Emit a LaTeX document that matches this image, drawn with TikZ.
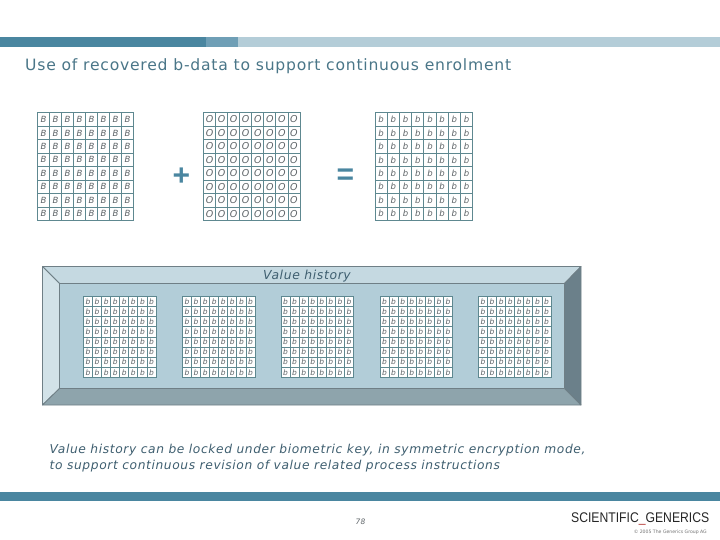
\documentclass[tikz,border=0pt]{standalone}
\usepackage{fontspec}
\setmainfont{DejaVu Sans}
\newfontfamily\logofont{Liberation Sans}
\newfontfamily\spacedfont[LetterSpace=5]{DejaVu Sans}
\definecolor{tealdark}{HTML}{4A86A0}
\definecolor{tealmid}{HTML}{6F9FB6}
\definecolor{teallight}{HTML}{B4CDD8}
\definecolor{gridline}{HTML}{5E8890}
\definecolor{titlecol}{HTML}{4A7688}
\definecolor{bevelface}{HTML}{B2CDD8}
\definecolor{beveltop}{HTML}{C5D9E1}
\definecolor{bevelleft}{HTML}{D2E2E8}
\definecolor{bevelbottom}{HTML}{8EA4AC}
\definecolor{bevelright}{HTML}{6B808A}
\definecolor{bevelline}{HTML}{6F7F86}
\definecolor{letter}{HTML}{5E6468}
\definecolor{bodytext}{HTML}{3F5F70}
\definecolor{logored}{HTML}{B8403C}
\tikzset{
  bar/.style={fill=#1,draw=none},
  bevel/.style={fill=#1,draw=bevelline,line width=0.8pt,line join=round},
  cellgrid/.style={draw=gridline,line width=0.8pt,fill=white},
  titletext/.style={anchor=west,inner sep=0pt,text=titlecol,font=\spacedfont\fontsize{15.6}{17}\selectfont},
  bodyline/.style={anchor=west,inner sep=0pt,text=bodytext,font=\spacedfont\itshape\fontsize{12.25}{14}\selectfont},
  opsign/.style={inner sep=0pt,text=tealdark,font=\logofont\bfseries\fontsize{30}{30}\selectfont},
  cellletter/.style={inner sep=0pt,text=letter,font=\itshape\fontsize{#1}{#1}\selectfont},
}
% \lettergrid{x0}{y0}{x1}{y1}{letter}{size}
\newcommand{\lettergrid}[6]{%
  \filldraw[cellgrid] (#1,#2) rectangle (#3,#4);
  \foreach \k in {1,...,7}{
    \draw[gridline,line width=0.8pt] ({#1+\k*(#3-#1)/8},#2) -- ({#1+\k*(#3-#1)/8},#4);
    \draw[gridline,line width=0.8pt] (#1,{#2+\k*(#4-#2)/8}) -- (#3,{#2+\k*(#4-#2)/8});
  }
  \foreach \i in {0,...,7}{\foreach \j in {0,...,7}{
    \node[cellletter=#6] at ({#1+(\i+0.5)*(#3-#1)/8},{#2+(\j+0.5)*(#4-#2)/8}) {#5};
  }}
}
\begin{document}
\begin{tikzpicture}[x=1pt,y=-1pt]
\useasboundingbox (0,0) rectangle (720,540);
\fill[white] (0,0) rectangle (720,540);
% top bars
\fill[bar=teallight] (238,37) rectangle (720,47);
\fill[bar=tealmid] (206,37) rectangle (238,47);
\fill[bar=tealdark] (0,37) rectangle (206,47);
\node[titletext] (title) at (25,66) {Use of recovered b-data to support continuous enrolment};
% upper grids
\lettergrid{37.5}{112.7}{133.5}{220.5}{B}{8.5}
\lettergrid{203.5}{112.7}{300}{220.5}{O}{9.5}
\lettergrid{375}{112.7}{472.7}{220.5}{b}{8.5}
\node[opsign] (plus) at (181.5,176.5) {+};
\node[opsign] (equals) at (345.5,176.5) {=};
% bevel
\path[bevel=beveltop] (42.5,266.5) -- (581,266.5) -- (564.5,283.5) -- (59.5,283.5) -- cycle;
\path[bevel=bevelleft] (42.5,266.5) -- (59.5,283.5) -- (59.5,388.5) -- (42.5,405) -- cycle;
\path[bevel=bevelright] (581,266.5) -- (581,405) -- (564.5,388.5) -- (564.5,283.5) -- cycle;
\path[bevel=bevelbottom] (42.5,405) -- (59.5,388.5) -- (564.5,388.5) -- (581,405) -- cycle;
\path[bevel=bevelface] (59.5,283.5) rectangle (564.5,388.5);
\node[inner sep=0pt,text=bodytext,font=\spacedfont\itshape\fontsize{12.4}{14}\selectfont] (vh) at (307,276) {Value history};
% small grids
\foreach \x in {83.5,182.5,281,380,478.5}{
  \lettergrid{\x}{296.5}{\x+72.5}{377.3}{b}{7.5}
}
% body text
\node[bodyline] (l1) at (49.5,450.5) {Value history can be locked under biometric key, in symmetric encryption mode,};
\node[bodyline] (l2) at (49.5,466.5) {to support continuous revision of value related process instructions};
% footer
\fill[bar=tealdark] (0,492) rectangle (720,500.5);
\node[inner sep=0pt,text=letter,font=\itshape\fontsize{7.5}{9}\selectfont] (pg) at (360.5,522) {78};
\node[anchor=west,inner sep=0pt,xscale=0.87,text=black!85,font=\logofont\fontsize{14}{15}\selectfont] (logo) at (571,518.5) {SCIENTIFIC\textcolor{logored}{\_}GENERICS};
\node[anchor=east,inner sep=0pt,text=black!55,font=\fontsize{4.6}{5}\selectfont] (copy) at (707,532.5) {© 2005 The Generics Group AG};
\end{tikzpicture}
\end{document}
